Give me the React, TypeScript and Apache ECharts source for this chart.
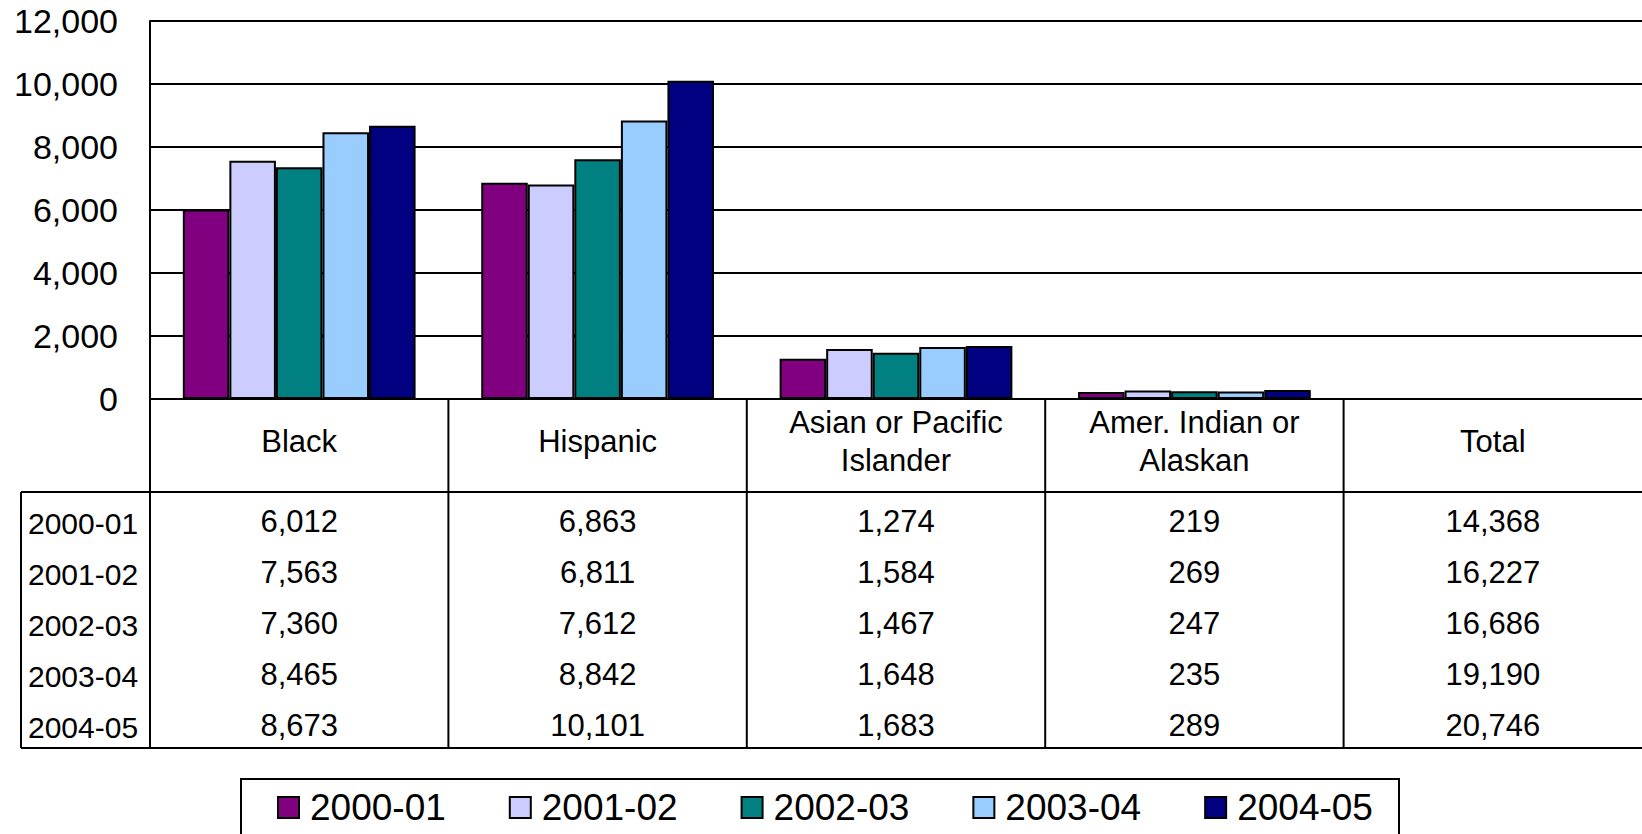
import React, { useEffect, useRef } from "react";
import * as echarts from "echarts";

const categories = ["Black", "Hispanic", "Asian or Pacific\nIslander", "Amer. Indian or\nAlaskan", "Total"];
const years = ["2000-01", "2001-02", "2002-03", "2003-04", "2004-05"];
const colors = ["#800080", "#CCCCFF", "#008080", "#99CCFF", "#000080"];

// values per year: Black, Hispanic, Asian or Pacific Islander, Amer. Indian or Alaskan
const y2000_01 = [6012, 6863, 1274, 219];
const y2001_02 = [7563, 6811, 1584, 269];
const y2002_03 = [7360, 7612, 1467, 247];
const y2003_04 = [8465, 8842, 1648, 235];
const y2004_05 = [8673, 10101, 1683, 289];
const totals = [14368, 16227, 16686, 19190, 20746];

const yearValues = [y2000_01, y2001_02, y2002_03, y2003_04, y2004_05];
const yTicks = { min: 0, max: 12000, interval: 2000 };

const FONT = "'Liberation Sans', Arial, sans-serif";
const fmt = (v: number) => v.toLocaleString("en-US");

export default function App() {
  const ref = useRef<HTMLDivElement>(null);
  useEffect(() => {
    if (!ref.current) return;
    const chart = echarts.init(ref.current, undefined, { renderer: "svg" });
    chart.setOption({
      animation: false,
      backgroundColor: "#fff",
      grid: { left: 150, top: 21, width: 1505, height: 378, containLabel: false },
      xAxis: {
        type: "category",
        data: categories,
        axisLine: { show: true, lineStyle: { color: "#000", width: 2 } },
        axisTick: { show: false },
        axisLabel: { show: false },
      },
      yAxis: {
        type: "value",
        min: yTicks.min,
        max: yTicks.max,
        interval: yTicks.interval,
        axisLine: { show: true, lineStyle: { color: "#000", width: 2 } },
        axisTick: { show: false },
        axisLabel: {
          formatter: (v: number) => fmt(v),
          fontSize: 34,
          color: "#000",
          fontFamily: FONT,
          margin: 32,
        },
        splitLine: { show: true, lineStyle: { color: "#000", width: 2 } },
      },
      legend: {
        top: 789,
        left: 277,
        padding: 0,
        itemWidth: 21,
        itemHeight: 21,
        itemGap: 63,
        icon: "rect",
        itemStyle: { borderColor: "#000", borderWidth: 2 },
        textStyle: { fontSize: 37, color: "#000", fontFamily: FONT, padding: [0, 0, 0, 6] },
        data: years,
      },
      series: years.map((yr, i) => ({
        name: yr,
        type: "bar",
        barGap: "0%",
        barCategoryGap: "22%",
        data: [...yearValues[i], null],
        itemStyle: { color: colors[i], borderColor: "#000", borderWidth: 2 },
      })),
    });

    // Data table beneath the plot, positioned from the axis scale
    const axisY = chart.convertToPixel({ yAxisIndex: 0 }, 0) as number;
    const c0 = chart.convertToPixel({ xAxisIndex: 0 }, 0) as number;
    const c1 = chart.convertToPixel({ xAxisIndex: 0 }, 1) as number;
    const band = c1 - c0;
    const headerBottom = 492;
    const tableBottom = 748;
    const tableLeft = 21;
    const rightEdge = 1642;
    const rowY0 = 521;
    const rowStep = 51;
    const headerY = 441;

    const lineStyle = { stroke: "#000", lineWidth: 2 };
    const elems: any[] = [];
    elems.push({ type: "line", shape: { x1: tableLeft, y1: headerBottom, x2: rightEdge, y2: headerBottom }, style: lineStyle });
    elems.push({ type: "line", shape: { x1: tableLeft, y1: tableBottom, x2: rightEdge, y2: tableBottom }, style: lineStyle });
    elems.push({ type: "line", shape: { x1: tableLeft, y1: headerBottom, x2: tableLeft, y2: tableBottom }, style: lineStyle });
    for (let k = 0; k < categories.length; k++) {
      const cx = chart.convertToPixel({ xAxisIndex: 0 }, k) as number;
      const xl = cx - band / 2;
      elems.push({ type: "line", shape: { x1: xl, y1: axisY, x2: xl, y2: tableBottom }, style: lineStyle });
      elems.push({
        type: "text",
        x: cx,
        y: headerY,
        style: {
          text: categories[k],
          fontSize: 31,
          fontFamily: FONT,
          fill: "#000",
          align: "center",
          verticalAlign: "middle",
          lineHeight: 38,
        },
      });
      for (let r = 0; r < years.length; r++) {
        const v = k < 4 ? yearValues[r][k] : totals[r];
        elems.push({
          type: "text",
          x: cx,
          y: rowY0 + r * rowStep,
          style: { text: fmt(v), fontSize: 31, fontFamily: FONT, fill: "#000", align: "center", verticalAlign: "middle" },
        });
      }
    }
    for (let r = 0; r < years.length; r++) {
      elems.push({
        type: "text",
        x: 28,
        y: rowY0 + r * rowStep + 2,
        style: { text: years[r], fontSize: 30, fontFamily: FONT, fill: "#000", align: "left", verticalAlign: "middle" },
      });
    }
    elems.push({
      type: "rect",
      shape: { x: 241, y: 779, width: 1158, height: 120 },
      style: { fill: "none", stroke: "#000", lineWidth: 2 },
      z: -1,
    });
    chart.setOption({ graphic: elems });

    return () => chart.dispose();
  }, []);
  return <div ref={ref} style={{ position: "fixed", left: 0, top: 0, width: 1642, height: 834 }} />;
}
